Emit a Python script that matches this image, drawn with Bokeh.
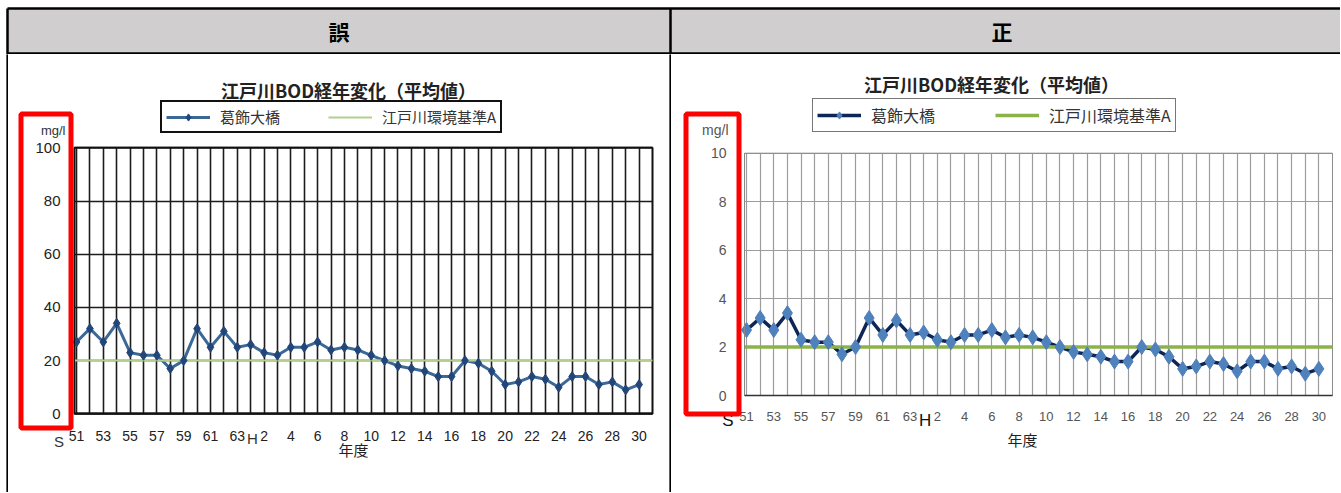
from bokeh.plotting import figure
from bokeh.layouts import column, row
from bokeh.models import (Range1d, FixedTicker, Label, Legend, LegendItem, BoxAnnotation,
                          ColumnDataSource, LinearAxis, Spacer)
from bokeh.embed import file_html
from bokeh.resources import INLINE
from bokeh.core.properties import value

# ---------------- data ----------------
header_labels = ["誤", "正"]
chart_title = "江戸川BOD経年変化（平均値）"
series_name = "葛飾大橋"
standard_name = "江戸川環境基準A"
y_unit = "mg/l"
x_title = "年度"

year_labels = ["51", "52", "53", "54", "55", "56", "57", "58", "59", "60", "61", "62", "63",
               "1", "2", "3", "4", "5", "6", "7", "8", "9", "10", "11", "12", "13", "14", "15",
               "16", "17", "18", "19", "20", "21", "22", "23", "24", "25", "26", "27", "28", "29", "30"]
era_labels = ["S", "H"]
era_first_index = [0, 13]

bod_wrong = [27, 32, 27, 34, 23, 22, 22, 17, 20, 32, 25, 31, 25, 26, 23, 22, 25, 25, 27, 24, 25,
             24, 22, 20, 18, 17, 16, 14, 14, 20, 19, 16, 11, 12, 14, 13, 10, 14, 14, 11, 12, 9, 11]
standard_wrong = 20
yticks_wrong = [0, 20, 40, 60, 80, 100]

bod_correct = [2.7, 3.2, 2.7, 3.4, 2.3, 2.2, 2.2, 1.7, 2.0, 3.2, 2.5, 3.1, 2.5, 2.6, 2.3, 2.2, 2.5,
               2.5, 2.7, 2.4, 2.5, 2.4, 2.2, 2.0, 1.8, 1.7, 1.6, 1.4, 1.4, 2.0, 1.9, 1.6, 1.1, 1.2,
               1.4, 1.3, 1.0, 1.4, 1.4, 1.1, 1.2, 0.9, 1.1]
standard_correct = 2
yticks_correct = [0, 2, 4, 6, 8, 10]

# ---------------- layout constants (pixels) ----------------
PAGE_W = 1340
PAGE_H = 492
HDR_H = 54
BODY_H = PAGE_H - HDR_H
X_FIRST = -0.15          # plot-area left edge, in category units
CJK_FONT = "Noto Sans CJK JP"
LAT_FONT = "Liberation Sans"


def make_chart(vals, std, yticks, st):
    n = len(year_labels)
    idx = list(range(n))
    cx0, cx1 = st["cell"]
    pl, pr, pt, pb = st["plot"]
    xa0, xa1 = X_FIRST, float(n)
    ya0, ya1 = yticks[0], yticks[-1]
    kx = (pr - pl) / (xa1 - xa0)
    ky = (pb - pt) / (ya1 - ya0)
    x_range = Range1d(xa0 - (pl - cx0) / kx, xa1 + (cx1 - pr) / kx)
    y_range = Range1d(ya0 - (PAGE_H - pb) / ky, ya1 + (pt - HDR_H) / ky)

    def sx(px):
        return px - cx0

    def sy(py):
        return PAGE_H - py

    def dx(px):
        return xa0 + (px - pl) / kx

    p = figure(width=cx1 - cx0, height=BODY_H, x_range=x_range, y_range=y_range,
               toolbar_location=None, output_backend="svg", min_border=0)
    p.background_fill_color = "white"
    p.border_fill_color = "white"
    p.outline_line_color = None

    # grid limited to the plot area
    p.xgrid.ticker = FixedTicker(ticks=idx)
    p.ygrid.ticker = FixedTicker(ticks=yticks)
    p.xgrid.cross_bounds = (ya0, ya1)
    p.ygrid.cross_bounds = (xa0, xa1)
    for g in (p.xgrid, p.ygrid):
        g.grid_line_color = st["grid"]
        g.grid_line_width = st["grid_w"]
        g.grid_line_alpha = 1.0

    # plot-area border
    p.add_layout(BoxAnnotation(left=xa0, right=xa1, bottom=ya0, top=ya1,
                               fill_color=None, fill_alpha=0, line_color=st["outline"],
                               line_alpha=1.0, line_width=st["outline_w"], level="underlay"))

    # axes fixed at the plot-area edges
    xax = p.xaxis[0]
    yax = p.yaxis[0]
    xax.fixed_location = ya0
    xax.bounds = (xa0, xa1)
    yax.fixed_location = xa0
    yax.bounds = (ya0, ya1)
    xax.ticker = FixedTicker(ticks=idx[::2])
    xax.major_label_overrides = {i: year_labels[i] for i in idx[::2]}
    yax.ticker = FixedTicker(ticks=yticks)
    for ax in (xax, yax):
        ax.major_tick_line_color = None
        ax.minor_tick_line_color = None
        ax.major_label_text_font = LAT_FONT
        ax.major_label_text_color = st["tick_color"]
    yax.axis_line_color = st["yaxis_line"]
    xax.axis_line_color = st["xaxis_line"]
    xax.axis_line_width = st["xaxis_line_w"]
    yax.major_label_text_font_size = st["ytick_size"]
    yax.major_label_standoff = st["ytick_standoff"]
    xax.major_label_text_font_size = st["xtick_size"]
    xax.major_label_standoff = st["xtick_standoff"]

    # axis title (separate tickless axis so it can be centred where the reference has it)
    lx = dx(st["xlabel_cx"])
    lab_axis = LinearAxis(fixed_location=ya0, bounds=(lx - 0.5, lx + 0.5),
                          ticker=FixedTicker(ticks=[]), axis_label=x_title,
                          axis_line_color=None, major_tick_line_color=None,
                          minor_tick_line_color=None, major_label_standoff=0,
                          axis_label_standoff=st["xlabel_standoff"],
                          axis_label_text_font=CJK_FONT, axis_label_text_font_style="normal",
                          axis_label_text_font_size="15px", axis_label_text_color="#222222")
    p.add_layout(lab_axis, "below")

    # series
    src = ColumnDataSource(dict(x=idx, y=vals))
    lr = p.line("x", "y", source=src, line_color=st["line"], line_width=st["line_w"])
    std_r = p.line(x=[xa0, xa1], y=[std, std], line_color=st["std"], line_width=st["std_w"])
    sr = p.scatter("x", "y", source=src, marker="diamond", size=st["msize"],
                   fill_color=st["marker"], line_color=st["marker"])

    # chart title
    tx, ty = st["title_c"]
    p.add_layout(Label(x=sx(tx), y=sy(ty), x_units="screen", y_units="screen",
                       text=chart_title, text_align="center", text_baseline="middle",
                       text_font=CJK_FONT, text_font_size="18px",
                       text_font_style="bold", text_color="#222222"))
    # unit label
    ux, uy = st["unit_r"]
    p.add_layout(Label(x=sx(ux), y=sy(uy), x_units="screen", y_units="screen",
                       text=y_unit, text_align="right", text_baseline="middle",
                       text_font=LAT_FONT, text_font_size=st["unit_size"],
                       text_color=st["unit_color"]))
    # era marks (S = 昭和, H = 平成)
    for lab, fi, off, ey in zip(era_labels, era_first_index, st["era_off"], st["era_y"]):
        p.add_layout(Label(x=fi + off, y=sy(ey), x_units="data", y_units="screen",
                           text=lab, text_align="center", text_baseline="middle",
                           text_font=LAT_FONT, text_font_size=st["era_size"],
                           text_color=st["era_color"]))

    # legend
    lgx, lgy = st["legend_lb"]
    legend = Legend(items=[LegendItem(label=series_name, renderers=[lr, sr]),
                           LegendItem(label=standard_name, renderers=[std_r])],
                    orientation="horizontal", location=(sx(lgx), sy(lgy)),
                    glyph_width=44, glyph_height=18, label_height=18, label_standoff=10,
                    spacing=st["legend_spacing"], padding=4, margin=0,
                    border_line_color=st["legend_border"], border_line_alpha=1.0,
                    border_line_width=st["legend_border_w"],
                    background_fill_color="white", background_fill_alpha=1.0,
                    label_text_font=CJK_FONT, label_text_font_size=st["legend_size"],
                    label_text_color="#333333")
    p.add_layout(legend)

    # red highlight frame around the y-axis labels
    l, r, t, b = st["redbox"]
    p.add_layout(BoxAnnotation(left=sx(l), right=sx(r), top=sy(t), bottom=sy(b),
                               left_units="screen", right_units="screen",
                               top_units="screen", bottom_units="screen",
                               fill_color=None, fill_alpha=0,
                               line_color="#ff0000", line_alpha=1.0, line_width=5))
    return p


style_wrong = dict(cell=(8, 669), plot=(74, 652, 147.3, 413.3),
                   outline="#111111", outline_w=2, grid="#1c1c1c", grid_w=1.6,
                   line="#3b6896", line_w=3, marker="#23467a", msize=10,
                   std="#b3cf8e", std_w=2,
                   yaxis_line="#111111", xaxis_line="#111111", xaxis_line_w=2,
                   ytick_size="15px", xtick_size="14px", tick_color="#222222",
                   ytick_standoff=8, xtick_standoff=11,
                   xlabel_cx=353, xlabel_standoff=25,
                   title_c=(348, 89), unit_r=(65, 130), unit_size="13px", unit_color="#333333",
                   era_off=(-1.31, 0.14), era_y=(441, 437.5), era_size="15px",
                   era_color="#333333",
                   legend_lb=(160, 133), legend_spacing=48, legend_border="#111111",
                   legend_border_w=2, legend_size="15px",
                   redbox=(20.5, 70.5, 113.5, 427.5))

style_correct = dict(cell=(671, PAGE_W), plot=(744, 1332, 152.7, 395),
                     outline="#8c8c8c", outline_w=1, grid="#9c9c9c", grid_w=1.2,
                     line="#0e2656", line_w=3.5, marker="#4f81bd", msize=15,
                     std="#8cb34a", std_w=3.5,
                     yaxis_line="#888888", xaxis_line="#333333", xaxis_line_w=1.5,
                     ytick_size="14px", xtick_size="13px", tick_color="#555555",
                     ytick_standoff=12, xtick_standoff=10,
                     xlabel_cx=1022, xlabel_standoff=33,
                     title_c=(991, 83), unit_r=(728, 129), unit_size="14px",
                     unit_color="#555555",
                     era_off=(-1.36, 0.1), era_y=(420, 420), era_size="17px",
                     era_color="#111111",
                     legend_lb=(812, 132), legend_spacing=60, legend_border="#777777",
                     legend_border_w=1, legend_size="16px",
                     redbox=(685.5, 738.5, 113.5, 413.5))

# ---------------- header row ----------------
HDR_LEFT, HDR_DIV, HDR_TOP, HDR_BOT = 7, 670, 8, 53
cell_w = HDR_DIV - HDR_LEFT
row_h = HDR_BOT - HDR_TOP
hx0 = -0.5 - HDR_LEFT / cell_w
hx1 = hx0 + PAGE_W / cell_w
hy0 = -(HDR_H - HDR_BOT) / row_h
hy1 = 1 + HDR_TOP / row_h
hx = list(range(len(header_labels)))

hdr = figure(width=PAGE_W, height=HDR_H, x_range=Range1d(hx0, hx1), y_range=Range1d(hy0, hy1),
             toolbar_location=None, output_backend="svg", min_border=0)
hdr.axis.visible = False
hdr.grid.visible = False
hdr.outline_line_color = None
hdr.background_fill_color = "white"
hdr.border_fill_color = "white"
lefts = [i - 0.5 for i in hx]
rights = [i + 0.5 for i in hx]
rights[-1] = hx1
hdr.quad(left=lefts, right=rights, bottom=0, top=1, fill_color="#d0cece", line_color=None)
hdr.text(x=hx, y=0.5, text=header_labels, text_align="center", text_baseline="middle",
         text_font=value(CJK_FONT), text_font_size="21px", text_font_style="bold",
         text_color="#000000")
hdr.segment(x0=[lefts[0], lefts[0]], x1=[hx1, hx1], y0=[0, 1], y1=[0, 1],
            line_color="black", line_width=2.5)
hdr.segment(x0=lefts, x1=lefts, y0=[hy0] * len(lefts), y1=[1] * len(lefts),
            line_color="black", line_width=2.5)


def strip():
    s = figure(width=2, height=BODY_H, x_range=Range1d(0, 1), y_range=Range1d(0, 1),
               toolbar_location=None, output_backend="svg", min_border=0)
    s.axis.visible = False
    s.grid.visible = False
    s.outline_line_color = None
    s.background_fill_color = "black"
    s.border_fill_color = "black"
    s.quad(left=[0], right=[1], bottom=[0], top=[1], fill_color="black", line_color=None)
    return s


left = make_chart(bod_wrong, standard_wrong, yticks_wrong, style_wrong)
right = make_chart(bod_correct, standard_correct, yticks_correct, style_correct)

body = row(Spacer(width=6, height=BODY_H), strip(), left, strip(), right, spacing=0)
layout = column(hdr, body, spacing=0)

open("out.html", "w").write(file_html(layout, INLINE, title="江戸川BOD経年変化"))
